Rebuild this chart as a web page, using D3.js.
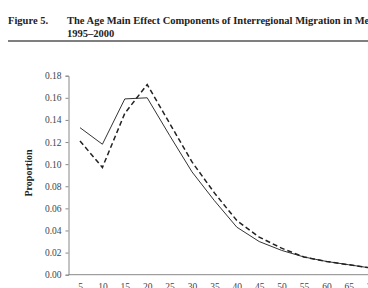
<!DOCTYPE html>
<html><head><meta charset="utf-8">
<script src="https://cdn.jsdelivr.net/npm/d3@7"></script>
<style>
html,body{margin:0;padding:0;background:#fff;overflow:hidden;}
svg{display:block;}
</style></head>
<body>
<svg id="c" width="368" height="288"></svg>
<script>
const ages = [5,10,15,20,25,30,35,40,45,50,55,60,65,70];
const solidSeries = [0.133,0.118,0.159,0.160,0.126,0.093,0.067,0.043,0.030,0.022,0.016,0.012,0.009,0.006];
const dashedSeries = [0.121,0.097,0.146,0.172,0.137,0.102,0.074,0.049,0.034,0.024,0.016,0.012,0.009,0.006];
const yTicks = [0,0.02,0.04,0.06,0.08,0.10,0.12,0.14,0.16,0.18];
const figLabel = "Figure 5.";
const titleLines = ["The Age Main Effect Components of Interregional Migration in Mexico,", "1995–2000"];
const yLabel = "Proportion";

const svg = d3.select("#c");
const serif = "'Liberation Serif','DejaVu Serif',serif";

// header
svg.append("text").attr("x",8).attr("y",24).attr("font-family",serif).attr("font-weight","bold")
  .attr("font-size",10.5).attr("fill","#222").text(figLabel);
titleLines.forEach((t,i)=>{
  svg.append("text").attr("x",67).attr("y",24+12.7*i).attr("font-family",serif).attr("font-weight","bold")
    .attr("font-size",10.5).attr("fill","#222").text(t);
});
svg.append("line").attr("x1",8).attr("x2",368).attr("y1",41).attr("y2",41)
  .attr("stroke","#555").attr("stroke-width",1.5);

const x = d3.scalePoint().domain(ages).range([80,371.2]);
const y = d3.scaleLinear().domain([0,0.18]).range([274.7,75.7]);
const x0 = 68.5;

// y axis
const yAxis = svg.append("g").attr("transform",`translate(${x0},0)`)
  .call(d3.axisLeft(y).tickValues(yTicks).tickFormat(d3.format(".2f")).tickSize(3).tickPadding(4));
yAxis.select(".domain").attr("stroke","#888");
yAxis.selectAll(".tick line").attr("stroke","#888");
yAxis.selectAll("text").attr("font-family",serif).attr("font-size",9.5).attr("fill","#444");

// x axis
const xAxis = svg.append("g").attr("transform",`translate(0,${y(0)})`)
  .call(d3.axisBottom(x).tickSize(0).tickPadding(9));
xAxis.select(".domain").attr("d",`M${x0},0H368`).attr("stroke","#888");
xAxis.selectAll("text").attr("font-family",serif).attr("font-size",9.5).attr("fill","#444");

svg.append("text").attr("transform",`translate(32,173) rotate(-90)`).attr("text-anchor","middle")
  .attr("font-family",serif).attr("font-weight","bold").attr("font-size",10).attr("fill","#222").text(yLabel);

const line = d3.line().x((d,i)=>x(ages[i])).y(d=>y(d));
svg.append("path").datum(solidSeries).attr("d",line).attr("fill","none")
  .attr("stroke","#333").attr("stroke-width",1);
svg.append("path").datum(dashedSeries).attr("d",line).attr("fill","none")
  .attr("stroke","#222").attr("stroke-width",1.5).attr("stroke-dasharray","5,3");
</script>
</body></html>
